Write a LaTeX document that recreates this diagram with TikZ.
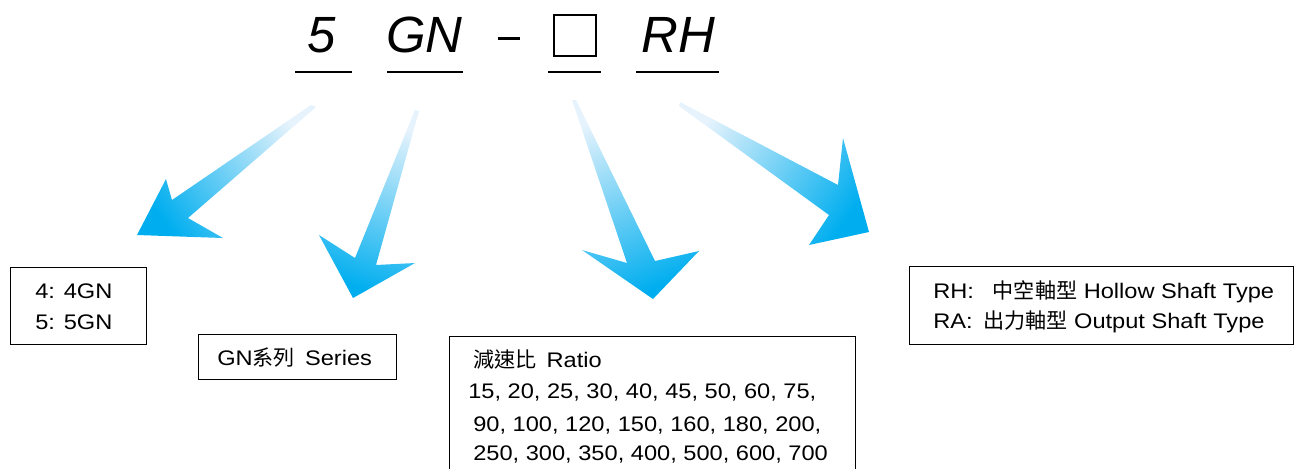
\documentclass[tikz,border=0pt]{standalone}
\usepackage{fontspec}
\setmainfont{Liberation Sans}
\newfontfamily\boxfont{Liberation Sans}[FakeStretch=1.12]
\newfontfamily\cjk{Noto Sans CJK TC}
\usepackage{tikz}
\usetikzlibrary{calc}
\definecolor{headblue}{RGB}{0,174,239}
\definecolor{tailblue}{RGB}{230,243,252}
\tikzset{>=stealth}
\tikzset{pfeil/.style={draw=none, top color=headblue, bottom color=tailblue}}
\tikzset{txt/.style={anchor=base west, inner sep=0pt, font=\boxfont\fontsize{12}{14}\selectfont}}
\tikzset{code/.style={anchor=base west, inner sep=0pt, font=\fontsize{29}{31}\selectfont\itshape}}
\tikzset{strich/.style={line width=1.4pt}}
\tikzset{kasten/.style={line width=0.5pt}}
\newcommand{\drawPfeil}[8] {
	\shade [pfeil, shading angle={#8}] #1 -- #2 -- #3 -- #4 -- #5 -- #6 -- #7 -- cycle;
}

\begin{document}
\begin{tikzpicture}[x=0.02cm, y=-0.02cm]
	\useasboundingbox (0,0) rectangle (1295,468);
	\clip (0,0) rectangle (1295,468);

	\node[code] (c5) at (307,52) {5};
	\node[code] (cgn) at (386,52) {GN};
	\node[code] (crh) at (641,52) {RH};
	\draw [line width=1.7pt] (498,38) -- (520,38);
	\draw [line width=1pt] (554,15) rectangle (596,56);

	\foreach \a/\b in {295/352, 387/463, 548/601, 636/719}{
		\draw [strich] (\a,72) -- (\b,72);
	}

	\drawPfeil{(311,105)}{(172,200)}{(166,179)}{(137,235)}{(223,238)}{(188,218)}{(316,107)}{126.4};
	\drawPfeil{(415,110)}{(355,258)}{(319,235)}{(353,298)}{(415,263)}{(376,265)}{(419,111)}{161.2};
	\drawPfeil{(572,100)}{(627,263)}{(582,250)}{(653,299)}{(699,251)}{(655,261)}{(576,100)}{201.7};
	\drawPfeil{(680,102)}{(838,185)}{(843,138)}{(869,232)}{(809,245)}{(829,215)}{(679,106)}{-124.1};

	\draw [kasten] (10,267) rectangle (146,344);
	\draw [kasten] (198,334) rectangle (396,379);
	\draw [kasten] (449,336) rectangle (855,470);
	\draw [kasten] (909,266) rectangle (1293,344);

	\node[txt] (k4) at (35,298.5) {4: 4GN};
	\node[txt] (k5) at (35,329) {5: 5GN};
	\node[txt] (gn) at (217,365) {GN{\cjk 系列}\hspace{2pt} Series};
	\node[txt] (ratio) at (473,367) {{\cjk 減速比}\hspace{2pt} Ratio};
	\node[txt] (r1) at (468,398) {15, 20, 25, 30, 40, 45, 50, 60, 75,};
	\node[txt] (r2) at (473,431) {90, 100, 120, 150, 160, 180, 200,};
	\node[txt] (r3) at (473,460) {250, 300, 350, 400, 500, 600, 700};
	\node[txt] (rh) at (933,298) {RH:\hspace{7pt} {\cjk 中空軸型} Hollow Shaft Type};
	\node[txt] (ra) at (933,328) {RA:\hspace{6pt}{\cjk 出力軸型} Output Shaft Type};

\end{tikzpicture}
\end{document}
